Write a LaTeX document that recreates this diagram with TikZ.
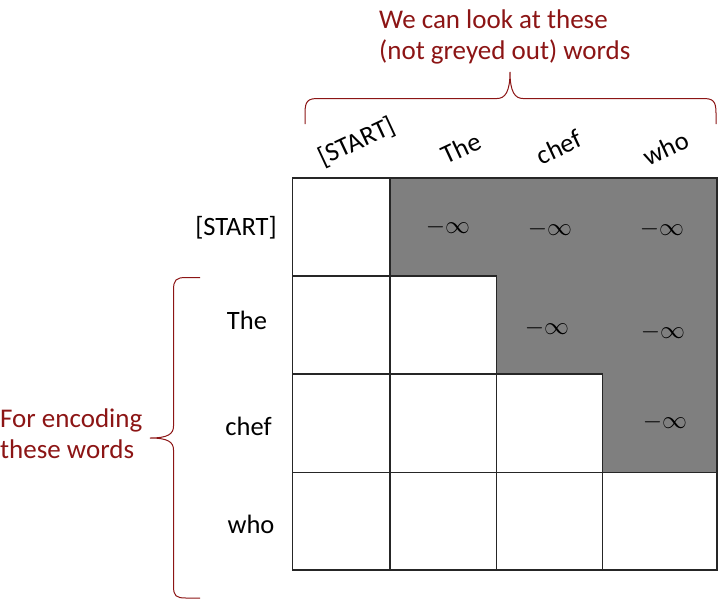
\documentclass[tikz,border=0pt]{standalone}
\usepackage{fontspec}
\setmainfont{Carlito}
\definecolor{cardinal}{HTML}{8C1515}
\definecolor{maskgrey}{HTML}{7F7F7F}
\begin{document}
\begin{tikzpicture}[x=1pt,y=-1pt,
  lbl/.style={font=\fontsize{26.5}{32}\selectfont, inner sep=0pt},
  collbl/.style={lbl, rotate=25},
  note/.style={font=\fontsize{27}{31.5}\selectfont, text=cardinal, align=left, inner sep=0pt},
  ninf/.style={font=\fontsize{24.88}{30}\selectfont, inner sep=0pt},
  cell/.style={draw=black!85, line width=1.1pt, fill=white},
  bracecurve/.style={draw=cardinal, line width=1pt}
]
\useasboundingbox (0,0) rectangle (720,603);

% grey (masked) region
\fill[maskgrey] (390,178) -- (717,178) -- (717,472.5) -- (602.7,472.5) -- (602.7,374)
  -- (496.7,374) -- (496.7,276) -- (390,276) -- cycle;

% visible (lower-triangle) cells
\draw[cell] (292.5,178) rectangle (390,276);
\draw[cell] (292.5,276) rectangle (390,374);
\draw[cell] (390,276) rectangle (496.7,374);
\draw[cell] (292.5,374) rectangle (390,472.5);
\draw[cell] (390,374) rectangle (496.7,472.5);
\draw[cell] (496.7,374) rectangle (602.7,472.5);
\draw[cell] (292.5,472.5) rectangle (390,570);
\draw[cell] (390,472.5) rectangle (496.7,570);
\draw[cell] (496.7,472.5) rectangle (602.7,570);
\draw[cell] (602.7,472.5) rectangle (717,570);
\draw[draw=black!85, line width=1.1pt] (292.5,178) rectangle (717,570);

% -infinity entries
\node[ninf] (m01) at (448,227) {$-\infty$};
\node[ninf] (m02) at (550,229) {$-\infty$};
\node[ninf] (m03) at (662,229) {$-\infty$};
\node[ninf] (m12) at (547,328) {$-\infty$};
\node[ninf] (m13) at (663,332) {$-\infty$};
\node[ninf] (m23) at (665,422) {$-\infty$};

% row labels
\node[lbl, anchor=base] (r0) at (236,235) {[START]};
\node[lbl, anchor=base] (r1) at (247,329) {The};
\node[lbl, anchor=base] (r2) at (248.5,435) {chef};
\node[lbl, anchor=base] (r3) at (251,533) {who};

% column labels
\node[collbl] (c0) at (357,142) {[START]};
\node[collbl] (c1) at (461,148) {The};
\node[collbl] (c2) at (559,147) {chef};
\node[collbl] (c3) at (666,148) {who};

% top brace and note
\draw[bracecurve] (305,124) -- (305,113) .. controls (305,101) and (308,98.5) .. (318,98.5)
  -- (497,98.5) .. controls (505,98.5) and (510,92) .. (510,72)
  .. controls (510,92) and (515,98.5) .. (523,98.5)
  -- (703,98.5) .. controls (713,98.5) and (716,101) .. (716,113) -- (716,124);
\node[note, anchor=north west] (topnote) at (379,9.5) {We can look at these\\(not greyed out) words};

% left brace and note
\draw[bracecurve] (200,277.5) -- (186,277.5) .. controls (176,277.5) and (173.5,280) .. (173.5,290)
  -- (173.5,426) .. controls (173.5,434) and (168,438) .. (150,438)
  .. controls (168,438) and (173.5,442) .. (173.5,450)
  -- (173.5,586) .. controls (173.5,596) and (176,598) .. (186,598) -- (200,598);
\node[note, anchor=north west] (leftnote) at (0,408.5) {For encoding\\these words};
\end{tikzpicture}
\end{document}
